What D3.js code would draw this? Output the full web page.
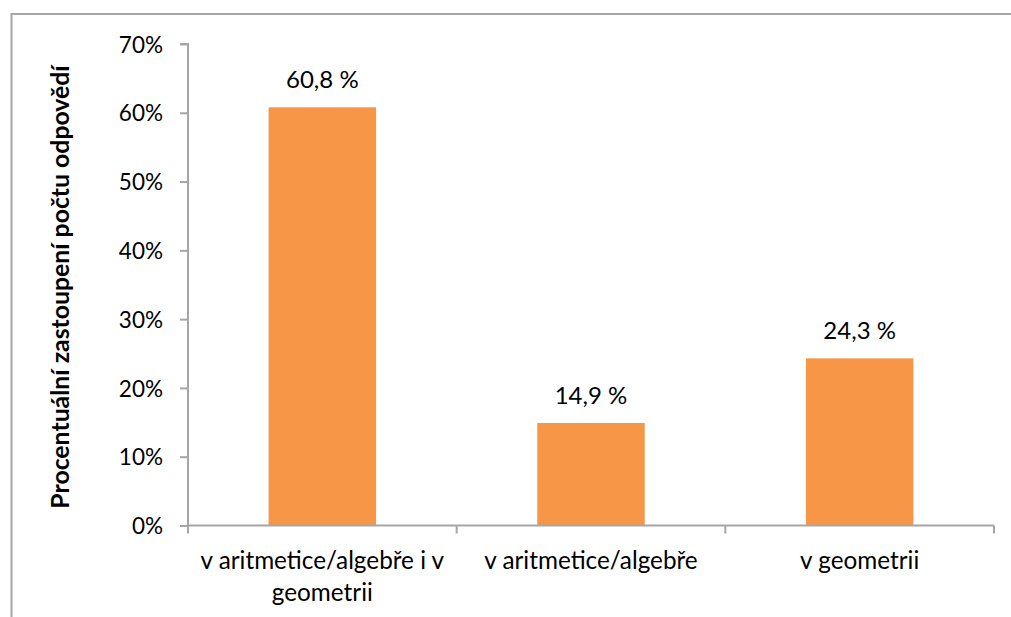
<!DOCTYPE html>
<html>
<head>
<meta charset="utf-8">
<script src="https://cdn.jsdelivr.net/npm/d3@7"></script>
<style>
  html, body { margin: 0; padding: 0; background: #fff; }
  svg { display: block; }
  text { font-family: Lato, "Open Sans", sans-serif; fill: #000; }
</style>
</head>
<body>
<svg id="chart" width="1011" height="617"></svg>
<script>
// Podíl odpovědí podle oblasti
const categories = [["v aritmetice/algebře i v", "geometrii"], ["v aritmetice/algebře"], ["v geometrii"]];
const values = [60.8, 14.9, 24.3];
const valueLabels = ["60,8 %", "14,9 %", "24,3 %"];
const yTicks = [0, 10, 20, 30, 40, 50, 60, 70];
const yTitle = "Procentuální zastoupení počtu odpovědí";

const svg = d3.select("#chart");
const plot = { left: 188, right: 994, top: 44, bottom: 525.5 };

// Outer chart frame (right and bottom edges fall outside the view)
svg.append("rect")
  .attr("x", 11.5).attr("y", 14)
  .attr("width", 1100).attr("height", 800)
  .attr("fill", "none").attr("stroke", "#a6a6a6").attr("stroke-width", 2);

const x = d3.scaleBand()
  .domain(d3.range(categories.length))
  .range([plot.left, plot.right])
  .paddingInner(0.6).paddingOuter(0.3);

const y = d3.scaleLinear().domain([0, 70]).range([plot.bottom, plot.top]);

// Bars
svg.append("g").selectAll("rect")
  .data(values)
  .join("rect")
  .attr("x", (d, i) => x(i))
  .attr("y", d => y(d))
  .attr("width", x.bandwidth())
  .attr("height", d => y(0) - y(d))
  .attr("fill", "#f79646");

// Y axis
const yAxis = svg.append("g")
  .attr("transform", `translate(${plot.left},0)`)
  .call(d3.axisLeft(y).tickValues(yTicks).tickFormat(d => d + "%").tickSize(8).tickPadding(17));
yAxis.select(".domain").attr("stroke", "#a6a6a6").attr("stroke-width", 2).attr("d", `M-8,${plot.top}H0V${plot.bottom}`);
yAxis.selectAll(".tick line").attr("stroke", "#a6a6a6").attr("stroke-width", 2);
yAxis.selectAll(".tick text").attr("font-size", 22.5).attr("font-family", "Lato, sans-serif").attr("fill", "#000").attr("dy", "0.36em");

// X axis with category separator ticks
const xAxisG = svg.append("g");
xAxisG.append("line")
  .attr("x1", plot.left).attr("x2", plot.right)
  .attr("y1", plot.bottom).attr("y2", plot.bottom)
  .attr("stroke", "#a6a6a6").attr("stroke-width", 2);
const bounds = d3.range(categories.length + 1).map(i => plot.left + i * (plot.right - plot.left) / categories.length);
xAxisG.selectAll("line.sep")
  .data(bounds)
  .join("line")
  .attr("class", "sep")
  .attr("x1", d => d).attr("x2", d => d)
  .attr("y1", plot.bottom).attr("y2", plot.bottom + 8)
  .attr("stroke", "#a6a6a6").attr("stroke-width", 2);

// Category labels
const catText = svg.append("g").selectAll("text")
  .data(categories)
  .join("text")
  .attr("x", (d, i) => x(i) + x.bandwidth() / 2)
  .attr("y", 569)
  .attr("text-anchor", "middle")
  .attr("font-size", 24.3);
catText.selectAll("tspan")
  .data(d => d)
  .join("tspan")
  .attr("x", function () { return d3.select(this.parentNode).attr("x"); })
  .attr("dy", (d, i) => i === 0 ? 0 : 32)
  .text(d => d);

// Value labels
svg.append("g").selectAll("text")
  .data(values)
  .join("text")
  .attr("x", (d, i) => x(i) + x.bandwidth() / 2)
  .attr("y", d => y(d) - 19)
  .attr("text-anchor", "middle")
  .attr("font-size", 24)
  .text((d, i) => valueLabels[i]);

// Y axis title
svg.append("text")
  .attr("transform", `translate(69,287) rotate(-90)`)
  .attr("text-anchor", "middle")
  .attr("font-size", 24.8)
  .attr("font-weight", "bold")
  .text(yTitle);
</script>
</body>
</html>
